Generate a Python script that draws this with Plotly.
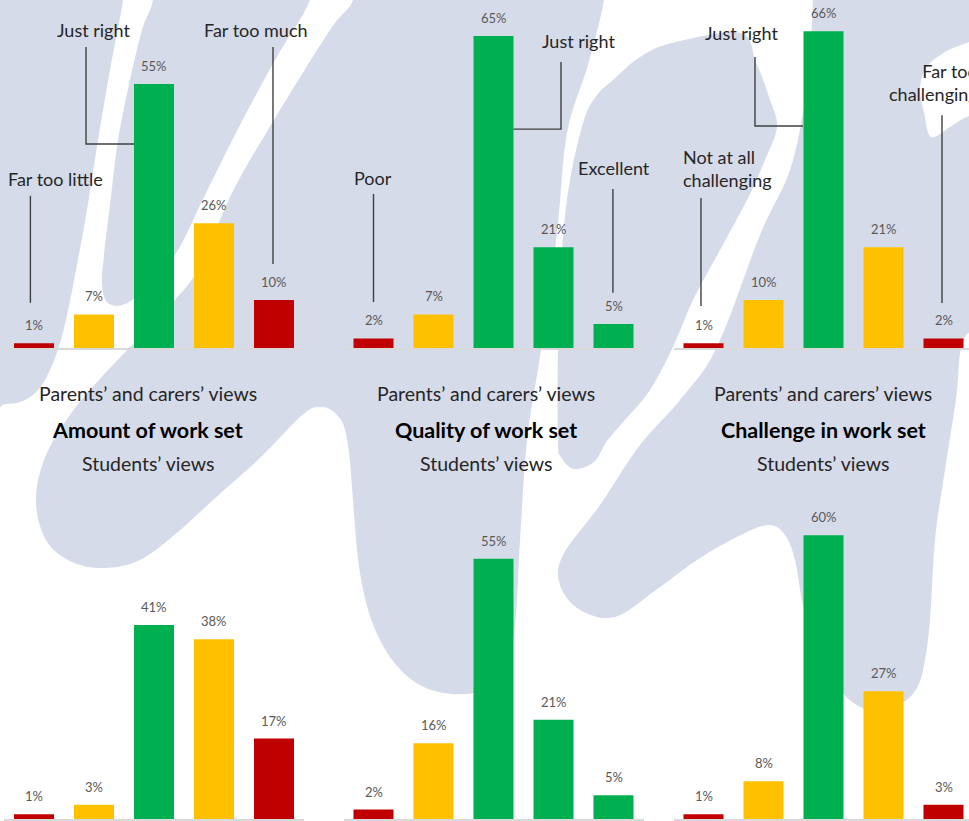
import plotly.graph_objects as go

W, H = 969, 821

# ---------------- data ----------------
amount_cats = ["Far too little", "Too little", "Just right", "Too much", "Far too much"]
quality_cats = ["Poor", "Fair", "Good", "Very good", "Excellent"]
challenge_cats = ["Not at all challenging", "Not very challenging", "Just right",
                  "Quite challenging", "Far too challenging"]

parents_amount = [1, 7, 55, 26, 10]
students_amount = [1, 3, 41, 38, 17]
parents_quality = [2, 7, 65, 21, 5]
students_quality = [2, 16, 55, 21, 5]
parents_challenge = [1, 10, 66, 21, 2]
students_challenge = [1, 8, 60, 27, 3]

topic_titles = ["Amount of work set", "Quality of work set", "Challenge in work set"]
upper_caption = "Parents’ and carers’ views"
lower_caption = "Students’ views"

RED, YEL, GRN = "#C00000", "#FFC000", "#00B050"
amount_colors = [RED, YEL, GRN, YEL, RED]
quality_colors = [RED, YEL, GRN, GRN, GRN]
challenge_colors = [RED, YEL, GRN, YEL, RED]

FONT = "Lato, 'Open Sans', sans-serif"
LABEL_GREY = "#595959"
TEXT_DARK = "#262626"
LINE_DARK = "#404040"
WM = "#D6DBEA"

def px(x):
    return x / W

def py(y):
    return 1 - y / H

fig = go.Figure()

panels = [
    (amount_cats, parents_amount, amount_colors, "x", "y"),
    (quality_cats, parents_quality, quality_colors, "x2", "y2"),
    (challenge_cats, parents_challenge, challenge_colors, "x3", "y3"),
    (amount_cats, students_amount, amount_colors, "x4", "y4"),
    (quality_cats, students_quality, quality_colors, "x5", "y5"),
    (challenge_cats, students_challenge, challenge_colors, "x6", "y6"),
]

annotations = []
for cats, vals, cols, xa, ya in panels:
    fig.add_trace(go.Bar(x=cats, y=vals, marker=dict(color=cols, line=dict(width=0)),
                         width=0.667, xaxis=xa, yaxis=ya, showlegend=False,
                         hoverinfo="x+y"))
    for c, v in zip(cats, vals):
        annotations.append(dict(x=c, y=v, xref=xa, yref=ya, text=f"{v}%", showarrow=False,
                                yanchor="middle", yshift=18,
                                font=dict(size=13, color=LABEL_GREY, family=FONT)))

# ---------------- axes ----------------
x_domains_px = [(4, 304), (343.5, 643.5), (673.5, 969)]
x_ranges = [[-0.5, 4.5], [-0.5, 4.5], [-0.5, -0.5 + (969 - 673.5) / 60]]
top_base, top_scale = 348, 4.8
bot_base, bot_top, bot_scale = 819, 480, 4.73

layout_axes = {}
for i in range(6):
    col = i % 3
    row = i // 3
    xname = "xaxis" if i == 0 else f"xaxis{i+1}"
    yname = "yaxis" if i == 0 else f"yaxis{i+1}"
    yanchor = "y" if i == 0 else f"y{i+1}"
    xanchor = "x" if i == 0 else f"x{i+1}"
    d0, d1 = x_domains_px[col]
    layout_axes[xname] = dict(domain=[px(d0), px(d1)], range=x_ranges[col], anchor=yanchor,
                              showline=True, linecolor="#D9D9D9", linewidth=1.5,
                              showgrid=False, zeroline=False, showticklabels=False,
                              ticks="", fixedrange=True)
    if row == 0:
        ydom = [py(top_base), 1.0]
        yr = [0, top_base / top_scale]
    else:
        ydom = [py(bot_base), py(bot_top)]
        yr = [0, (bot_base - bot_top) / bot_scale]
    layout_axes[yname] = dict(domain=ydom, range=yr, anchor=xanchor, visible=False,
                              showgrid=False, zeroline=False, fixedrange=True)

# ---------------- callouts ----------------
def callout(text, x, y, xa, ya, **kw):
    d = dict(x=x, y=y, xref=xa, yref=ya, text=text, showarrow=False, yanchor="middle",
             font=dict(size=18, color=TEXT_DARK, family=FONT))
    d.update(kw)
    annotations.append(d)

callout("Far too little", 0.358, 35.2, "x", "y")
callout("Just right", 0.99, 66.2, "x", "y")
callout("Far too much", 3.708, 66.2, "x", "y")
callout("Poor", -0.008, 35.4, "x2", "y2")
callout("Just right", 3.417, 63.9, "x2", "y2")
callout("Excellent", 4.0, 37.6, "x2", "y2")
callout("Just right", 0.625, 65.6, "x3", "y3")
callout("Not at all<br>challenging", -0.375, 37.3, "x3", "y3", xanchor="left", align="left")
callout("Far too<br>challenging", 4.42, 55.4, "x3", "y3", xanchor="right", align="right", xshift=11)

shapes = []

def seg(xa, ya, pts):
    path = "M " + " L ".join(f"{x},{y}" for x, y in pts)
    shapes.append(dict(type="path", path=path, xref=xa, yref=ya,
                       line=dict(color=LINE_DARK, width=1.4), layer="above"))

seg("x", "y", [(-0.06, 9.4), (-0.06, 31.7)])
seg("x", "y", [(0.867, 62.7), (0.867, 42.5), (1.667, 42.5)])
seg("x", "y", [(3.983, 17.5), (3.983, 62.7)])
seg("x2", "y2", [(0.0, 9.6), (0.0, 32.1)])
seg("x2", "y2", [(3.125, 59.6), (3.125, 45.6), (2.333, 45.6)])
seg("x2", "y2", [(3.99, 11.5), (3.99, 33.1)])
seg("x3", "y3", [(-0.042, 8.75), (-0.042, 31.25)])
seg("x3", "y3", [(0.858, 60.6), (0.858, 46.25), (1.658, 46.25)])
seg("x3", "y3", [(3.975, 9.4), (3.975, 48.5)])

# ---------------- panel captions ----------------
centers = [147.5, 485.5, 823.0]
for cx, t in zip(centers, topic_titles):
    annotations.append(dict(x=px(cx), y=py(393.5), xref="paper", yref="paper", text=upper_caption,
                            showarrow=False, xanchor="center", yanchor="middle",
                            font=dict(size=19.5, color=TEXT_DARK, family=FONT)))
    annotations.append(dict(x=px(cx), y=py(430), xref="paper", yref="paper", text=f"<b>{t}</b>",
                            showarrow=False, xanchor="center", yanchor="middle",
                            font=dict(size=21.5, color="#000000", family=FONT)))
    annotations.append(dict(x=px(cx), y=py(463.5), xref="paper", yref="paper", text=lower_caption,
                            showarrow=False, xanchor="center", yanchor="middle",
                            font=dict(size=19.5, color=TEXT_DARK, family=FONT)))

# ---------------- background watermark ----------------
def smooth_path(pts):
    P = [(px(x), py(y)) for x, y in pts]
    n = len(P)
    d = f"M {P[0][0]:.5f},{P[0][1]:.5f}"
    for i in range(n):
        p0, p1, p2, p3 = P[i - 1], P[i], P[(i + 1) % n], P[(i + 2) % n]
        c1 = (p1[0] + (p2[0] - p0[0]) / 6, p1[1] + (p2[1] - p0[1]) / 6)
        c2 = (p2[0] - (p3[0] - p1[0]) / 6, p2[1] - (p3[1] - p1[1]) / 6)
        d += f" C {c1[0]:.5f},{c1[1]:.5f} {c2[0]:.5f},{c2[1]:.5f} {p2[0]:.5f},{p2[1]:.5f}"
    return d + " Z"

wm_left = [(-40, -40), (125, -40), (123, 0), (110, 70), (98, 140), (87, 210), (76, 270),
           (66, 320), (56, 355), (42, 385), (25, 400), (5, 404), (-40, 404)]
wm_tongue = [(155, -40), (312, -40), (310, 0), (275, 60), (240, 125), (205, 195), (178, 250),
             (150, 285), (125, 304), (108, 303), (102, 285), (104, 255), (110, 205),
             (118, 140), (130, 80), (142, 30), (153, 0)]
wm_main = [(355, -40), (606, -40), (604, 0), (588, 65), (567, 133), (557, 233), (541, 350),
           (527, 440), (520, 540), (513, 640), (492, 685), (452, 694), (412, 680),
           (380, 640), (360, 573), (348, 445), (336, 414), (318, 407), (300, 417),
           (260, 458), (213, 500), (178, 532), (140, 560), (105, 568), (72, 562),
           (46, 540), (36, 500), (46, 455), (75, 408), (110, 368), (145, 332),
           (175, 300), (200, 266), (233, 191), (277, 115), (330, 30), (353, 0)]
wm_finger = [(613, 80), (640, 57), (672, 43), (740, 33), (756, 62), (770, 100), (777, 127),
             (765, 160), (747, 200), (720, 250), (693, 300), (673, 347), (650, 390),
             (625, 420), (607, 441), (594, 462), (574, 469), (561, 457), (558, 440),
             (558, 350), (562, 250), (570, 180), (584, 120), (597, 95)]
wm_right = [(815, -40), (1010, -40), (1010, 320), (966, 335), (956, 400), (945, 470),
            (935, 540), (928, 640), (913, 694), (872, 710), (840, 690), (815, 640),
            (803, 605), (795, 560), (785, 535), (770, 525), (745, 533), (700, 558),
            (656, 590), (615, 617), (580, 610), (560, 585), (563, 555), (600, 505),
            (640, 445), (680, 400), (717, 347), (760, 235), (790, 170), (805, 100), (811, 40), (813, 0)]
wm_hole = [(1000, 30), (969, 42), (945, 52), (926, 68), (920, 90), (924, 112), (931, 137),
           (950, 127), (969, 116), (1000, 110)]

for poly in [wm_left, wm_tongue, wm_main, wm_finger, wm_right]:
    shapes.append(dict(type="path", path=smooth_path(poly), xref="paper", yref="paper",
                       fillcolor=WM, line=dict(width=0), layer="below"))
shapes.append(dict(type="path", path=smooth_path(wm_hole), xref="paper", yref="paper",
                   fillcolor="#FFFFFF", line=dict(width=0), layer="below"))

fig.update_layout(
    width=W, height=H, margin=dict(l=0, r=0, t=0, b=0),
    paper_bgcolor="#FFFFFF", plot_bgcolor="rgba(0,0,0,0)",
    font=dict(family=FONT), bargap=0.333, showlegend=False,
    annotations=annotations, shapes=shapes, **layout_axes,
)

fig.write_html("out.html")
